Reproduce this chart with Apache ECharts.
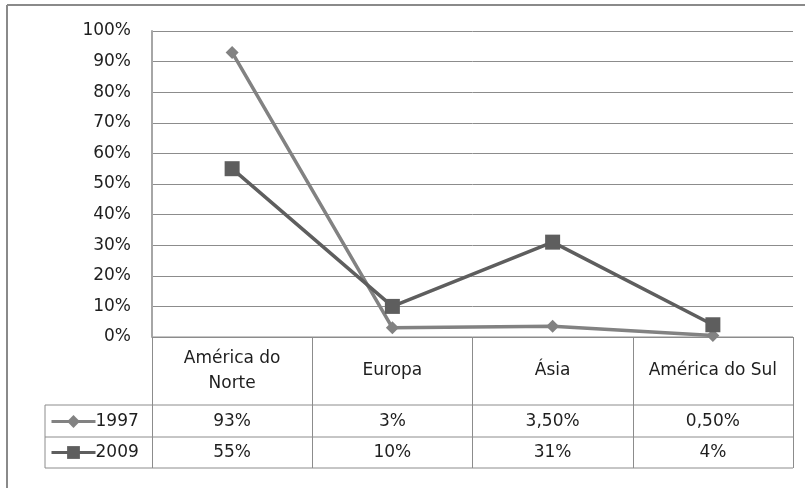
<!DOCTYPE html>
<html>
<head>
<meta charset="utf-8">
<script src="https://cdn.jsdelivr.net/npm/echarts@6/dist/echarts.min.js"></script>
<style>
html,body{margin:0;padding:0;background:#fff;}
#c{width:805px;height:488px;}
</style>
</head>
<body>
<div id="c"></div>
<script>
var categories = ['América do\nNorte', 'Europa', 'Ásia', 'América do Sul'];
var seriesNames = ['1997', '2009'];
var values1997 = [0.93, 0.03, 0.035, 0.005];
var values2009 = [0.55, 0.10, 0.31, 0.04];
var labels1997 = ['93%', '3%', '3,50%', '0,50%'];
var labels2009 = ['55%', '10%', '31%', '4%'];

var FONT = 'DejaVu Sans';
var FS = 17;
var TXT = '#1e1e1e';
var LINE = '#8c8c8c';

var chart = echarts.init(document.getElementById('c'), null, {renderer: 'canvas'});

function rowAxis(data, margin) {
  return {
    type: 'category', data: data, position: 'bottom', gridIndex: 0,
    axisLine: {show: false}, axisTick: {show: false}, splitLine: {show: false},
    axisLabel: {margin: margin, verticalAlign: 'middle', color: TXT, fontFamily: FONT, fontSize: FS, interval: 0}
  };
}

function legendRow(name, top) {
  return {
    orient: 'horizontal', left: 50, top: top, padding: 0, itemWidth: 44, itemHeight: 16,
    lineStyle: {width: 3},
    textStyle: {color: TXT, fontFamily: FONT, fontSize: FS, lineHeight: 16, padding: [0, 0, 0, -5]},
    data: [name]
  };
}

var option = {
  backgroundColor: '#fff',
  animation: false,
  grid: {left: 152, right: 12, top: 31, bottom: 151, containLabel: false},
  xAxis: [
    {
      type: 'category', data: categories, boundaryGap: true,
      axisLine: {show: false},
      axisTick: {show: true, length: 131, inside: false, lineStyle: {color: LINE, width: 1}},
      axisLabel: {margin: 34, verticalAlign: 'middle', color: TXT, fontFamily: FONT, fontSize: FS, lineHeight: 25, interval: 0},
      splitLine: {show: false}
    },
    rowAxis(labels1997, 85),
    rowAxis(labels2009, 116)
  ],
  yAxis: {
    type: 'value', min: 0, max: 1, interval: 0.1,
    axisLine: {show: true, lineStyle: {color: '#a6a6a6', width: 2}},
    axisTick: {show: false},
    axisLabel: {margin: 21, color: TXT, fontFamily: FONT, fontSize: FS,
      formatter: function (v) { return Math.round(v * 100) + '%'; }},
    splitLine: {show: true, lineStyle: {color: LINE, width: 1}}
  },
  legend: [legendRow(seriesNames[0], 413), legendRow(seriesNames[1], 444)],
  series: [
    {
      name: seriesNames[0], type: 'line', data: values1997, xAxisIndex: 0,
      symbol: 'diamond', symbolSize: 13,
      lineStyle: {color: '#828282', width: 3.5},
      itemStyle: {color: '#828282'}
    },
    {
      name: seriesNames[1], type: 'line', data: values2009, xAxisIndex: 0,
      symbol: 'rect', symbolSize: 15,
      lineStyle: {color: '#5e5e5e', width: 3.5},
      itemStyle: {color: '#5e5e5e'}
    }
  ]
};
chart.setOption(option);

var x0 = chart.convertToPixel({gridIndex: 0}, [0, 0]);
var xLeft = 152, xRight = 793;
var yBase = x0[1];
var rows = [yBase + 68, yBase + 100, yBase + 131];
var legendLeft = 45;
var g = [];
rows.forEach(function (y) {
  g.push({type: 'line', shape: {x1: legendLeft, y1: y, x2: xRight, y2: y}, style: {stroke: LINE, lineWidth: 1}});
});
g.push({type: 'line', shape: {x1: legendLeft, y1: rows[0], x2: legendLeft, y2: rows[2]}, style: {stroke: LINE, lineWidth: 1}});
g.push({type: 'line', shape: {x1: xLeft, y1: yBase, x2: xRight, y2: yBase}, style: {stroke: LINE, lineWidth: 1}});
g.push({type: 'line', shape: {x1: 7, y1: 5, x2: 805, y2: 5}, style: {stroke: '#8a8a8a', lineWidth: 2}});
g.push({type: 'line', shape: {x1: 7, y1: 5, x2: 7, y2: 488}, style: {stroke: '#8a8a8a', lineWidth: 2}});
chart.setOption({graphic: g});
</script>
</body>
</html>
